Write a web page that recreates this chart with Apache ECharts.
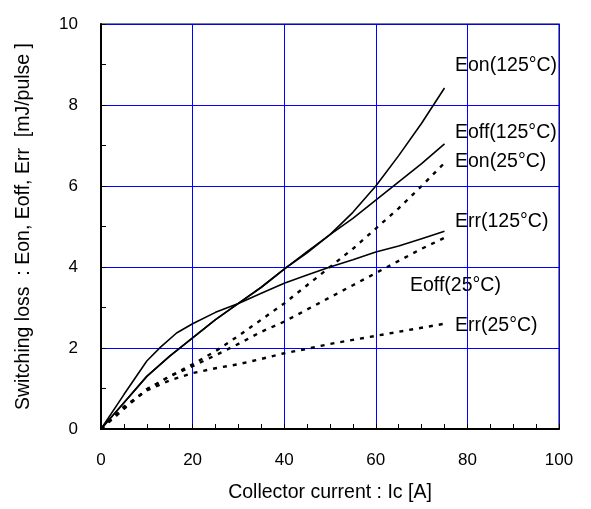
<!DOCTYPE html>
<html><head><meta charset="utf-8">
<script src="https://cdn.jsdelivr.net/npm/echarts@6/dist/echarts.min.js"></script>
<style>html,body{margin:0;padding:0;background:#fff}#c{width:591px;height:509px}</style>
</head><body><div id="c"></div>
<script>
var xTicks = [0, 20, 40, 60, 80, 100];
var yTicks = [0, 2, 4, 6, 8, 10];
var ic = [0, 5, 10, 15, 20, 25, 30, 35, 40, 45, 50, 55, 60, 65, 70, 75];
var eon125  = [0, 0.65, 1.3, 1.8, 2.25, 2.7, 3.1, 3.5, 3.95, 4.35, 4.8, 5.35, 6.0, 6.75, 7.55, 8.42];
var eoff125 = [0, 0.65, 1.3, 1.8, 2.25, 2.7, 3.1, 3.5, 3.95, 4.38, 4.8, 5.2, 5.65, 6.1, 6.55, 7.04];
var err125Ic = [0, 5, 10, 13, 16.5, 20, 25, 30, 35, 40, 45, 50, 55, 60, 65, 70, 75];
var err125  = [0, 0.85, 1.68, 2.02, 2.37, 2.6, 2.88, 3.1, 3.35, 3.6, 3.8, 4.0, 4.18, 4.37, 4.52, 4.7, 4.88];
var eon25   = [0, 0.5, 0.98, 1.3, 1.6, 1.92, 2.3, 2.7, 3.1, 3.55, 4.0, 4.45, 4.95, 5.45, 6.0, 6.57];
var eoff25  = [0, 0.5, 0.98, 1.3, 1.55, 1.82, 2.1, 2.4, 2.65, 2.95, 3.25, 3.55, 3.85, 4.15, 4.45, 4.72];
var err25   = [0, 0.55, 0.95, 1.2, 1.38, 1.5, 1.6, 1.73, 1.87, 1.98, 2.1, 2.2, 2.3, 2.4, 2.5, 2.6];
var seriesNames = ['Eon(125°C)', 'Eoff(125°C)', 'Eon(25°C)', 'Err(125°C)', 'Eoff(25°C)', 'Err(25°C)'];

function pairs(xs, ys) { return xs.map(function (x, i) { return [x, ys[i]]; }); }

var chart = echarts.init(document.getElementById('c'));
var FONT = 'Liberation Sans, Arial, sans-serif';
var solid = { color: '#000', width: 1.6, type: 'solid' };
var dashed = { color: '#000', width: 2.4, type: [4, 6] };

function mk(name, data, style) {
  return { name: name, type: 'line', data: data, showSymbol: false, symbol: 'none',
           lineStyle: style, smooth: false, silent: true, animation: false };
}
var LBL = '19.5px ' + FONT;

chart.setOption({
  animation: false,
  backgroundColor: '#fff',
  grid: { left: 101, top: 24, width: 458, height: 405, show: true, borderColor: '#555', borderWidth: 1.5, backgroundColor: 'transparent' },
  xAxis: {
    type: 'value', min: 0, max: 100, interval: 20,
    name: 'Collector current : Ic [A]', nameLocation: 'middle', nameGap: 54,
    nameTextStyle: { fontFamily: FONT, fontSize: 19.5, color: '#000' },
    axisLine: { show: true, lineStyle: { color: '#000', width: 2 } },
    axisTick: { show: true, inside: true, length: 5, lineStyle: { color: '#000' } },
    minorTick: { show: true, splitNumber: 4, length: 5, lineStyle: { color: '#000' } },
    axisLabel: { fontFamily: FONT, fontSize: 17, color: '#000', margin: 23 },
    splitLine: { show: true, lineStyle: { color: '#0000ff', width: 1 } }
  },
  yAxis: {
    type: 'value', min: 0, max: 10, interval: 2,
    name: 'Switching loss  : Eon, Eoff, Err  [mJ/pulse ]', nameLocation: 'middle', nameGap: 67,
    nameTextStyle: { fontFamily: FONT, fontSize: 19.5, color: '#000' },
    axisLine: { show: true, lineStyle: { color: '#000', width: 2 } },
    axisTick: { show: true, inside: true, length: 5, lineStyle: { color: '#000' } },
    minorTick: { show: true, splitNumber: 2, length: 5, lineStyle: { color: '#000' } },
    axisLabel: { fontFamily: FONT, fontSize: 17, color: '#000', margin: 23 },
    splitLine: { show: true, lineStyle: { color: '#0000ff', width: 1 } }
  },
  series: [
    mk(seriesNames[0], pairs(ic, eon125), solid),
    mk(seriesNames[1], pairs(ic, eoff125), solid),
    mk(seriesNames[2], pairs(ic, eon25), dashed),
    mk(seriesNames[3], pairs(err125Ic, err125), solid),
    mk(seriesNames[4], pairs(ic, eoff25), dashed),
    mk(seriesNames[5], pairs(ic, err25), dashed)
  ],
  graphic: [
    { type: 'text', left: 455, top: 56, style: { text: seriesNames[0], font: LBL, fill: '#000' } },
    { type: 'text', left: 455, top: 123, style: { text: seriesNames[1], font: LBL, fill: '#000' } },
    { type: 'text', left: 455, top: 152, style: { text: seriesNames[2], font: LBL, fill: '#000' } },
    { type: 'text', left: 455, top: 212, style: { text: seriesNames[3], font: LBL, fill: '#000' } },
    { type: 'text', left: 410, top: 276, style: { text: seriesNames[4], font: LBL, fill: '#000' } },
    { type: 'text', left: 455, top: 316, style: { text: seriesNames[5], font: LBL, fill: '#000' } }
  ]
});
</script></body></html>
